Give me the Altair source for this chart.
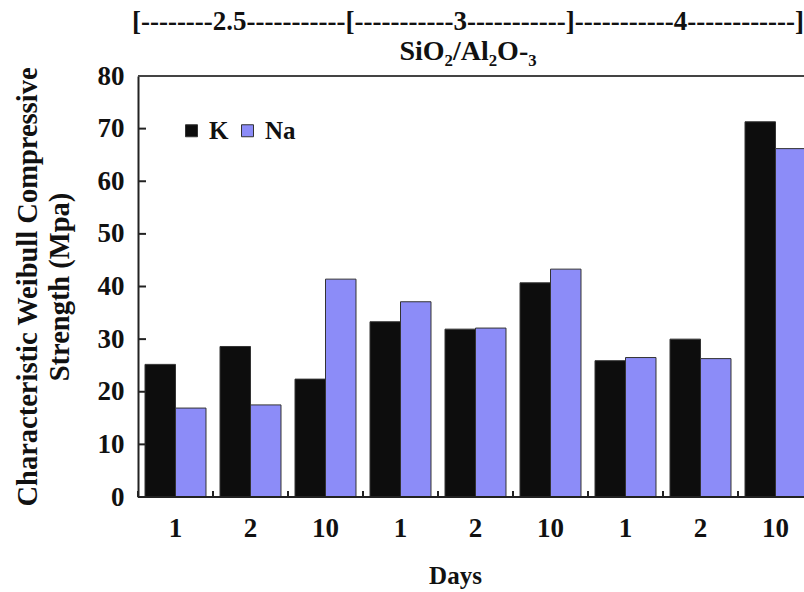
import altair as alt
import pandas as pd

# SiO2/Al2O3 ratio groups, curing days and Weibull characteristic strengths (MPa)
ratios = ["2.5", "2.5", "2.5", "3", "3", "3", "4", "4", "4"]
days = ["1", "2", "10", "1", "2", "10", "1", "2", "10"]
k_strength = [25.2, 28.6, 22.4, 33.3, 31.9, 40.7, 25.9, 30.0, 71.3]
na_strength = [16.9, 17.5, 41.4, 37.1, 32.1, 43.3, 26.5, 26.3, 66.2]
activators = ["K", "Na"]
y_ticks = [0, 10, 20, 30, 40, 50, 60, 70, 80]

slots = [f"{r}|{d}" for r, d in zip(ratios, days)]

rows = []
for s, kv, nv in zip(slots, k_strength, na_strength):
    rows.append({"slot": s, "ion": "K", "value": kv})
    rows.append({"slot": s, "ion": "Na", "value": nv})
bars_df = pd.DataFrame(rows)
ticks_df = pd.DataFrame({"v": y_ticks})
slots_df = pd.DataFrame({"slot": slots})

FONT = "Liberation Serif"
W, H = 666, 421
FULL_W = 675  # nine 75px day bands; the last one runs past the right edge

x_scale = alt.Scale(domain=slots, range=[0, FULL_W], paddingInner=0, paddingOuter=0)
y_scale = alt.Scale(domain=[0, 80], nice=False)

bars = alt.Chart(bars_df).mark_bar(clip=True, stroke="#333333", strokeWidth=1).encode(
    x=alt.X(
        "slot:N",
        scale=x_scale,
        axis=alt.Axis(
            title="Days",
            titleFontSize=25,
            labelExpr="split(datum.label, '|')[1]",
            labelAngle=0,
            tickSize=0,
            domain=False,
            labelPadding=18,
            titlePadding=22,
            titleX=317,
        ),
    ),
    xOffset=alt.XOffset(
        "ion:N", sort=activators, scale=alt.Scale(paddingInner=0, paddingOuter=0.23)
    ),
    y=alt.Y(
        "value:Q",
        scale=y_scale,
        axis=alt.Axis(
            title=["Characteristic Weibull Compressive", "Strength (Mpa)"],
            titleFontSize=28.5,
            values=y_ticks,
            tickSize=0,
            labelPadding=14,
            titlePadding=23,
            titleLineHeight=32,
        ),
    ),
    color=alt.Color(
        "ion:N",
        sort=activators,
        scale=alt.Scale(domain=activators, range=["#0d0d0d", "#8c8cf8"]),
        legend=alt.Legend(
            title=None,
            orient="none",
            legendX=41,
            legendY=42,
            direction="horizontal",
            symbolType="square",
            symbolSize=144,
            symbolStrokeColor="#333333",
            symbolStrokeWidth=1,
            labelFont=FONT,
            labelFontSize=25,
            labelFontWeight="bold",
            labelColor="#111111",
            labelOffset=5,
            columnPadding=6,
        ),
    ),
)

# inward ticks on the strength axis
y_tick_marks = alt.Chart(ticks_df).mark_rule(color="#222222", strokeWidth=2).encode(
    y=alt.Y("v:Q", scale=y_scale),
    x=alt.value(0),
    x2=alt.value(8),
)

# inward ticks between the day groups
x_tick_marks = alt.Chart(slots_df).mark_rule(color="#222222", strokeWidth=2).encode(
    x=alt.X("slot:N", scale=x_scale, bandPosition=0),
    y=alt.value(H),
    y2=alt.value(H - 6),
)

# frame lines along the top and the bottom of the plot
top_line = alt.Chart(slots_df).mark_rule(color="#444444", strokeWidth=2).encode(
    x=alt.value(0), x2=alt.value(W), y=alt.value(0)
)
bottom_line = alt.Chart(slots_df).mark_rule(color="#222222", strokeWidth=2).encode(
    x=alt.value(0), x2=alt.value(W), y=alt.value(H)
)

chart = (
    alt.layer(bars, y_tick_marks, x_tick_marks, top_line, bottom_line)
    .properties(
        width=W,
        height=H,
        autosize=alt.AutoSizeParams(type="none"),
        padding={"left": 138, "top": 76, "right": 0, "bottom": 95},
        title=alt.TitleParams(
            text="[--------2.5-----------[-----------3-----------]-----------4------------]",
            subtitle="SiO\u2082/Al\u2082O-\u2083",
            anchor="middle",
            dx=-3,
            font=FONT,
            fontSize=27,
            fontWeight="bold",
            color="#111111",
            subtitleFont=FONT,
            subtitleFontSize=28,
            subtitleFontWeight="bold",
            subtitleColor="#111111",
            subtitlePadding=2,
            offset=-5,
        ),
    )
    .configure_view(stroke=None)
    .configure_axis(
        labelFont=FONT,
        labelFontSize=27,
        labelFontWeight="bold",
        labelColor="#111111",
        titleFont=FONT,
        titleFontWeight="bold",
        titleColor="#111111",
        domainColor="#222222",
        domainWidth=2,
        grid=False,
    )
)

chart.save("out.html", embed_options={"renderer": "svg", "actions": False})
